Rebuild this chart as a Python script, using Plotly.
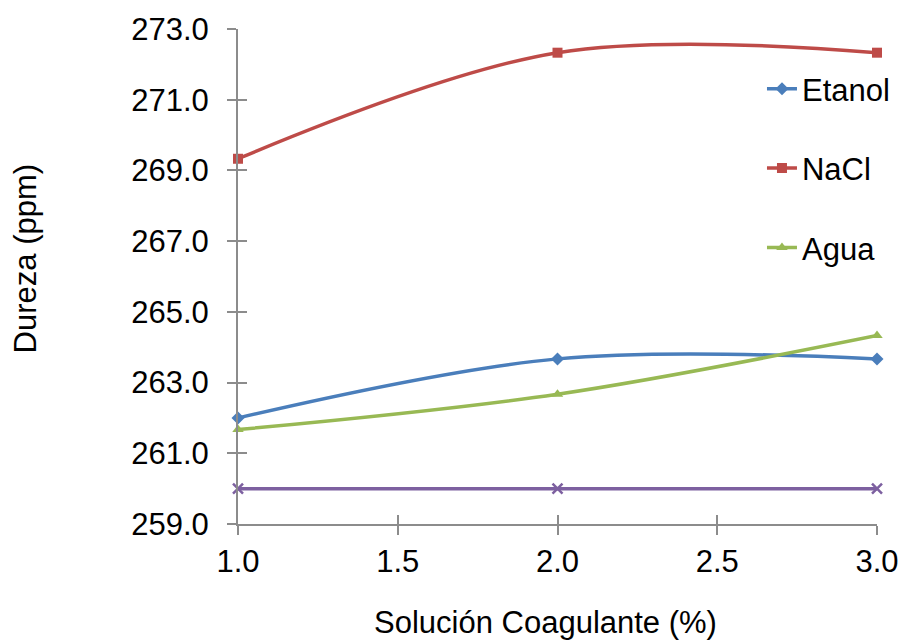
import plotly.graph_objects as go

x_vals = [1.0, 2.0, 3.0]
etanol = [262.0, 263.67, 263.67]
nacl = [269.33, 272.33, 272.33]
agua = [261.67, 262.67, 264.33]
base = [260.0, 260.0, 260.0]

names = ["Etanol", "NaCl", "Agua"]
colors = ["#4A7EBB", "#BE4B48", "#98B954"]
symbols = ["diamond", "square", "triangle-up"]

x_ticks = [1.0, 1.5, 2.0, 2.5, 3.0]
x_ticktext = ["1.0", "1.5", "2.0", "2.5", "3.0"]
y_ticks = [259, 261, 263, 265, 267, 269, 271, 273]
y_ticktext = ["259.0", "261.0", "263.0", "265.0", "267.0", "269.0", "271.0", "273.0"]

FONT = "Liberation Sans, Arial, sans-serif"
FS = 31

fig = go.Figure()
for i, (nm, ys) in enumerate(zip(names, [etanol, nacl, agua])):
    fig.add_trace(go.Scatter(
        x=x_vals, y=ys, name=nm, mode="lines+markers", cliponaxis=False,
        line=dict(color=colors[i], width=3.5, shape="spline", smoothing=1),
        marker=dict(symbol=symbols[i], size=10, color=colors[i]),
        legendgroup=nm,
    ))
fig.add_trace(go.Scatter(
    x=x_vals, y=base, mode="lines+markers", showlegend=False, cliponaxis=False,
    line=dict(color="#7D60A0", width=3.5),
    marker=dict(symbol="x-thin", size=10, line=dict(color="#7D60A0", width=2.5)),
))
fig.add_trace(go.Scatter(x=x_vals, y=base, xaxis="x2", yaxis="y2", mode="none",
                         showlegend=False, hoverinfo="skip"))

tickfont = dict(family=FONT, size=FS, color="#000000")
fig.update_layout(
    width=901, height=640,
    margin=dict(l=238, r=24, t=29, b=116, autoexpand=False),
    paper_bgcolor="white", plot_bgcolor="white",
    font=dict(family=FONT, color="#000000"),
    xaxis=dict(range=[1.0, 3.0], tickvals=x_ticks, ticktext=x_ticktext,
               showgrid=False, zeroline=False, showline=True, linecolor="#8C8C8C", linewidth=2,
               ticks="outside", ticklen=9, tickwidth=2, tickcolor="#8C8C8C",
               tickfont=tickfont, automargin=False),
    yaxis=dict(range=[259, 273], tickvals=y_ticks, ticktext=y_ticktext,
               showgrid=False, zeroline=False, showline=True, linecolor="#8C8C8C", linewidth=2,
               ticks="outside", ticklen=9, tickwidth=2, tickcolor="#8C8C8C",
               tickfont=tickfont, ticklabelstandoff=12, automargin=False),
    xaxis2=dict(range=[1.0, 3.0], overlaying="x", anchor="y2", side="bottom",
                tickvals=x_ticks, showticklabels=False, showgrid=False,
                zeroline=False, showline=False, ticks="inside", ticklen=9, tickwidth=2,
                tickcolor="#8C8C8C"),
    yaxis2=dict(range=[259, 273], overlaying="y", anchor="x2", side="left",
                tickvals=y_ticks, showticklabels=False,
                showgrid=False, zeroline=False, showline=False, ticks="inside", ticklen=9,
                tickwidth=2, tickcolor="#8C8C8C"),
    legend=dict(x=0.82, y=0.933, xanchor="left", yanchor="top",
                font=dict(family=FONT, size=FS), tracegroupgap=36,
                bgcolor="rgba(0,0,0,0)"),
    showlegend=True,
    annotations=[
        dict(text="Solución Coagulante (%)", xref="paper", yref="paper",
             x=0.482, y=-0.198, xanchor="center", yanchor="middle", showarrow=False,
             font=dict(family=FONT, size=FS)),
        dict(text="Dureza (ppm)", xref="paper", yref="paper", textangle=-90,
             x=-0.333, y=0.537, xanchor="center", yanchor="middle", showarrow=False,
             font=dict(family=FONT, size=FS)),
    ],
)

fig.write_html("out.html")
